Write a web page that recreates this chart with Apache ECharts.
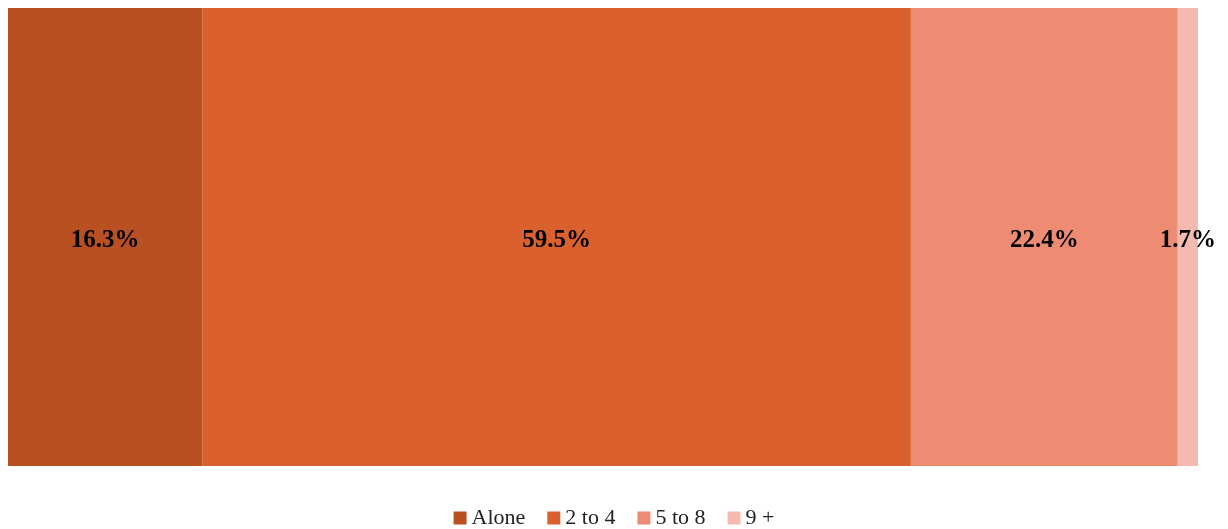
<!DOCTYPE html>
<html lang="en">
<head>
    <meta charset="UTF-8">
    <title>Household size</title>
    <script src="https://cdn.jsdelivr.net/npm/echarts@6/dist/echarts.min.js"></script>
    <style>
        body { margin: 0; background: #fff; }
    </style>
</head>
<body>
    <div id="main" style="width: 1228px;height:529px;"></div>
    <script type="text/javascript">
    // shares of each group (percent)
    var groups = ["Alone", "2 to 4", "5 to 8", "9 +"];
    var shares = [16.3, 59.5, 22.4, 1.7];
    var colors = ["#B85022", "#DA612E", "#EE8B73", "#F4BAB0"];

    var total = shares.reduce(function (a, b) { return a + b; }, 0);

    var myChart = echarts.init(document.getElementById('main'));

    var option = {
        animation: false,
        textStyle: { fontFamily: 'Liberation Serif' },
        grid: { left: 8, right: 30, top: 8, bottom: 63 },
        legend: {
            bottom: 0,
            left: 'center',
            padding: 0,
            itemWidth: 13,
            itemHeight: 13,
            itemGap: 22,
            icon: 'rect',
            textStyle: { fontSize: 22, color: '#222', fontFamily: 'Liberation Serif' },
            data: groups
        },
        xAxis: {
            type: 'value',
            min: 0,
            max: total,
            show: false
        },
        yAxis: {
            type: 'category',
            data: ['all'],
            show: false
        },
        series: groups.map(function (g, i) {
            return {
                name: g,
                type: 'bar',
                stack: 'total',
                barWidth: '100%',
                itemStyle: { color: colors[i] },
                label: {
                    show: true,
                    position: 'inside',
                    offset: [0, 4],
                    formatter: function (p) { return p.value.toFixed(1) + '%'; },
                    color: '#000',
                    fontWeight: 'bold',
                    fontSize: 25,
                    fontFamily: 'Liberation Serif'
                },
                data: [shares[i]]
            };
        })
    };

    myChart.setOption(option);
    </script>
</body>
</html>
